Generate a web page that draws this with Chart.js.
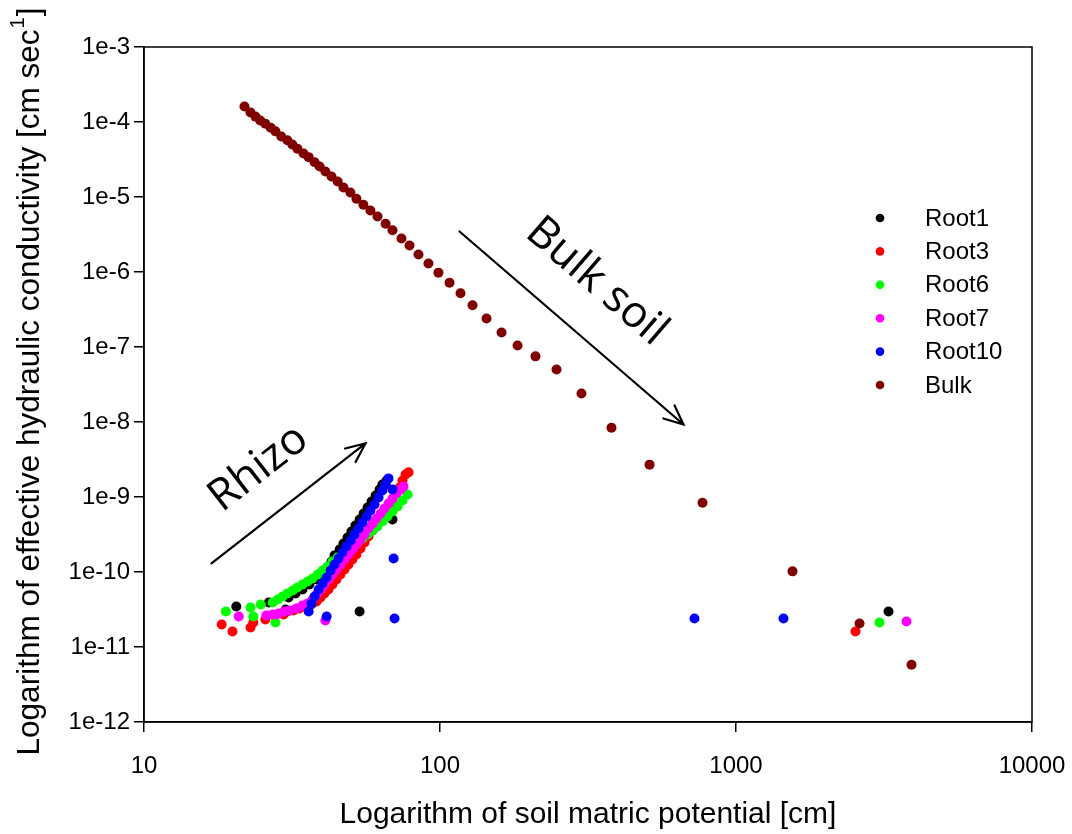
<!DOCTYPE html>
<html>
<head>
<meta charset="utf-8">
<script src="https://cdn.jsdelivr.net/npm/chart.js@4/dist/chart.umd.min.js"></script>
<style>
  html, body { margin: 0; padding: 0; background: #fff; }
  #wrap { width: 1072px; height: 834px; }
</style>
</head>
<body>
<div id="wrap"><canvas id="c" width="1072" height="834"></canvas></div>
<script>
// Soil matric potential [cm] (x) vs effective hydraulic conductivity [cm/s] (y)

const root1X = [20.5, 26.4, 30.1, 30.8, 32.5, 34.3, 36.2, 38.3, 40.1, 41.7, 43.0, 44.0, 45.8, 47.2, 48.7, 50.2, 51.8, 53.5, 55.2, 56.9, 58.7, 60.6, 62.5, 63.9, 66.0, 53.5, 69.1, 3275];
const root1Y = [3.47e-11, 3.92e-11, 3.16e-11, 4.57e-11, 5.17e-11, 5.84e-11, 6.81e-11, 7.94e-11, 9.56e-11, 1.15e-10, 1.38e-10, 1.66e-10, 2.0e-10, 2.40e-10, 2.88e-10, 3.47e-10, 4.17e-10, 5.01e-10, 6.03e-10, 7.24e-10, 8.70e-10, 1.05e-9, 1.26e-9, 1.47e-9, 1.66e-9, 2.97e-11, 5.01e-10, 2.97e-11];

const root3X = [18.3, 19.9, 22.9, 23.4, 25.7, 29.6, 30.5, 32.0, 33.5, 34.9, 36.8, 38.3, 39.5, 40.7, 42.0, 43.3, 44.7, 46.1, 47.6, 49.1, 50.6, 52.2, 53.9, 55.6, 57.3, 59.2, 61.0, 63.0, 64.9, 67.0, 69.1, 71.3, 73.0, 74.7, 76.5, 78.3, 2533];
const root3Y = [2.0e-11, 1.61e-11, 1.82e-11, 2.12e-11, 2.33e-11, 2.71e-11, 2.97e-11, 3.07e-11, 3.27e-11, 3.47e-11, 3.69e-11, 4.04e-11, 4.57e-11, 5.17e-11, 5.84e-11, 6.81e-11, 7.94e-11, 9.26e-11, 1.08e-10, 1.26e-10, 1.47e-10, 1.71e-10, 2.06e-10, 2.47e-10, 2.97e-10, 3.58e-10, 4.30e-10, 5.17e-10, 6.21e-10, 7.47e-10, 8.98e-10, 1.12e-9, 1.34e-9, 1.66e-9, 2.0e-9, 2.13e-9, 1.61e-11];

const root6X = [18.9, 22.9, 23.4, 24.8, 27.8, 27.2, 28.3, 29.4, 30.5, 31.8, 33.0, 34.3, 35.7, 37.1, 38.6, 40.1, 41.7, 43.3, 45.1, 46.8, 48.7, 50.6, 52.6, 54.7, 56.9, 59.2, 61.5, 63.9, 66.5, 69.1, 71.9, 74.7, 77.7, 3053];
const root6Y = [2.97e-11, 3.37e-11, 2.55e-11, 3.69e-11, 2.12e-11, 3.92e-11, 4.30e-11, 4.71e-11, 5.17e-11, 5.67e-11, 6.21e-11, 6.81e-11, 7.47e-11, 8.19e-11, 9.26e-11, 1.05e-10, 1.18e-10, 1.38e-10, 1.56e-10, 1.71e-10, 1.93e-10, 2.19e-10, 2.47e-10, 2.80e-10, 3.16e-10, 3.58e-10, 4.04e-10, 4.71e-10, 5.50e-10, 6.41e-10, 7.47e-10, 8.98e-10, 1.08e-9, 2.12e-11];

const root7X = [20.9, 28.0, 41.0, 25.9, 27.2, 28.5, 29.8, 31.0, 32.8, 34.3, 35.7, 37.1, 38.3, 39.5, 40.7, 42.0, 43.3, 44.7, 46.1, 47.6, 49.1, 50.6, 52.2, 53.9, 55.6, 57.3, 59.2, 61.0, 63.0, 64.9, 67.0, 69.1, 71.3, 73.6, 75.3, 3767];
const root7Y = [2.55e-11, 2.71e-11, 2.26e-11, 2.63e-11, 2.71e-11, 2.80e-11, 2.97e-11, 3.07e-11, 3.27e-11, 3.58e-11, 3.81e-11, 4.30e-11, 5.01e-11, 5.84e-11, 6.81e-11, 7.94e-11, 9.26e-11, 1.08e-10, 1.26e-10, 1.47e-10, 1.71e-10, 2.0e-10, 2.33e-10, 2.71e-10, 3.16e-10, 3.81e-10, 4.43e-10, 5.17e-10, 6.03e-10, 7.03e-10, 8.19e-10, 9.56e-10, 1.12e-9, 1.26e-9, 1.38e-9, 2.19e-11];

const root10X = [41.4, 36.0, 36.8, 37.7, 38.9, 40.1, 41.4, 42.7, 44.0, 45.4, 46.8, 48.3, 49.9, 51.4, 53.1, 54.7, 56.5, 58.2, 60.1, 62.0, 63.9, 65.5, 67.0, 69.1, 69.7, 70.2, 724, 1447];
const root10Y = [2.55e-11, 2.97e-11, 3.81e-11, 4.71e-11, 5.84e-11, 7.03e-11, 8.45e-11, 1.05e-10, 1.26e-10, 1.51e-10, 1.82e-10, 2.19e-10, 2.63e-10, 3.16e-10, 3.81e-10, 4.57e-10, 5.49e-10, 6.61e-10, 7.94e-10, 9.85e-10, 1.22e-9, 1.47e-9, 1.77e-9, 1.26e-9, 1.51e-10, 2.40e-11, 2.40e-11, 2.40e-11];

const bulkX = [21.85, 22.9, 23.8, 24.7, 25.7, 26.8, 27.8, 29.1, 30.5, 31.7, 33.0, 34.6, 36.0, 37.7, 39.2, 41.0, 43.0, 45.1, 47.2, 49.8, 52.2, 55.1, 58.2, 61.5, 65.5, 69.1, 74.1, 78.9, 84.6, 91.4, 98.8, 107.7, 117.3, 128.8, 143.6, 161.4, 182.8, 210.2, 247.5, 300.6, 379.6, 510.5, 770.6, 1552, 2614, 3917];
const bulkY = [1.61e-4, 1.34e-4, 1.18e-4, 1.05e-4, 9.5e-5, 8.4e-5, 7.5e-5, 6.4e-5, 5.7e-5, 5.0e-5, 4.4e-5, 3.8e-5, 3.4e-5, 2.9e-5, 2.55e-5, 2.19e-5, 1.88e-5, 1.61e-5, 1.34e-5, 1.15e-5, 9.5e-6, 7.9e-6, 6.6e-6, 5.5e-6, 4.4e-6, 3.6e-6, 2.8e-6, 2.26e-6, 1.71e-6, 1.30e-6, 9.8e-7, 7.2e-7, 5.2e-7, 3.6e-7, 2.4e-7, 1.56e-7, 1.05e-7, 7.5e-8, 5.0e-8, 2.4e-8, 8.4e-9, 2.7e-9, 8.4e-10, 1.02e-10, 2.06e-11, 5.8e-12];

const seriesNames = ['Root1', 'Root3', 'Root6', 'Root7', 'Root10', 'Bulk'];
const seriesColors = ['#000000', '#ff0000', '#00ff00', '#ff00ff', '#0000ff', '#800000'];

const xTickValues = [10, 100, 1000, 10000];
const xTickLabels = ['10', '100', '1000', '10000'];
const yTickValues = [1e-12, 1e-11, 1e-10, 1e-9, 1e-8, 1e-7, 1e-6, 1e-5, 1e-4, 1e-3];
const yTickLabels = ['1e-12', '1e-11', '1e-10', '1e-9', '1e-8', '1e-7', '1e-6', '1e-5', '1e-4', '1e-3'];

const xTitle = 'Logarithm of soil matric potential [cm]';
const yTitle = 'Logarithm of effective hydraulic conductivity [cm sec';
const yTitleSup = '1';
const yTitleEnd = ']';

// Arrow annotations in data coordinates: [x0, y0, x1, y1]
const rhizoArrow = [16.9, 1.30e-10, 56.0, 5.17e-9];
const bulkArrow = [116.4, 3.47e-6, 664.7, 9.26e-9];
// Annotation labels: [text, x, y]
const rhizoLabel = ['Rhizo', 24.4, 2.4e-9];
const bulkLabel = ['Bulk soil', 338, 7.4e-7];

const FONT = "'Liberation Sans', Arial, Helvetica, sans-serif";
const NOTE_FONT = "'Open Sans', 'DejaVu Sans', sans-serif";
const DOT_R = 5;

function pts(xs, ys) { return xs.map((v, i) => ({ x: v, y: ys[i] })); }

const allX = [root1X, root3X, root6X, root7X, root10X, bulkX];
const allY = [root1Y, root3Y, root6Y, root7Y, root10Y, bulkY];

const datasets = seriesNames.map((name, i) => ({
  label: name,
  data: pts(allX[i], allY[i]),
  backgroundColor: seriesColors[i],
  borderWidth: 0,
  pointRadius: DOT_R,
  pointHoverRadius: DOT_R,
  order: seriesNames.length - i
}));

function drawArrow(ctx, x0, y0, x1, y1) {
  ctx.beginPath();
  ctx.moveTo(x0, y0);
  ctx.lineTo(x1, y1);
  const ang = Math.atan2(y1 - y0, x1 - x0);
  const len = 21, spread = 0.42;
  ctx.moveTo(x1 - len * Math.cos(ang - spread), y1 - len * Math.sin(ang - spread));
  ctx.lineTo(x1, y1);
  ctx.lineTo(x1 - len * Math.cos(ang + spread), y1 - len * Math.sin(ang + spread));
  ctx.stroke();
}

const decor = {
  id: 'decor',
  afterDraw(chart) {
    const { ctx, chartArea: a, scales: { x, y } } = chart;
    ctx.save();

    // plot frame
    ctx.strokeStyle = '#000';
    ctx.lineWidth = 1.5;
    ctx.strokeRect(a.left, a.top, a.right - a.left, a.bottom - a.top);

    // arrows
    ctx.lineWidth = 2.2;
    ctx.lineCap = 'round';
    ctx.lineJoin = 'miter';
    [rhizoArrow, bulkArrow].forEach(r => {
      drawArrow(ctx, x.getPixelForValue(r[0]), y.getPixelForValue(r[1]),
                x.getPixelForValue(r[2]), y.getPixelForValue(r[3]));
    });

    // rotated annotation labels, aligned with their arrows
    ctx.fillStyle = '#000';
    ctx.textAlign = 'center';
    ctx.textBaseline = 'middle';
    ctx.font = '44px ' + NOTE_FONT;
    [[rhizoLabel, rhizoArrow], [bulkLabel, bulkArrow]].forEach(([lab, arr]) => {
      const ang = Math.atan2(y.getPixelForValue(arr[3]) - y.getPixelForValue(arr[1]),
                             x.getPixelForValue(arr[2]) - x.getPixelForValue(arr[0]));
      ctx.save();
      ctx.translate(x.getPixelForValue(lab[1]), y.getPixelForValue(lab[2]));
      ctx.rotate(ang);
      ctx.fillText(lab[0], 0, 0);
      ctx.restore();
    });

    // legend inside the plot
    ctx.font = '24px ' + FONT;
    ctx.textAlign = 'left';
    const lx = a.right - 152, ty = a.top + 171, step = 33.4;
    seriesNames.forEach((name, i) => {
      const yy = ty + i * step;
      ctx.fillStyle = seriesColors[i];
      ctx.beginPath();
      ctx.arc(lx, yy, 4.3, 0, Math.PI * 2);
      ctx.fill();
      ctx.fillStyle = '#000';
      ctx.fillText(name, lx + 45, yy + 1);
    });

    // axis titles
    ctx.fillStyle = '#000';
    ctx.font = '30px ' + FONT;
    ctx.textAlign = 'center';
    ctx.textBaseline = 'middle';
    ctx.fillText(xTitle, (a.left + a.right) / 2, 815);

    ctx.save();
    ctx.translate(30, (a.top + a.bottom) / 2 - 2);
    ctx.rotate(-Math.PI / 2);
    ctx.font = '31.5px ' + FONT;
    const w1 = ctx.measureText(yTitle).width;
    ctx.font = '20px ' + FONT;
    const w2 = ctx.measureText(yTitleSup).width;
    ctx.font = '31.5px ' + FONT;
    const w3 = ctx.measureText(yTitleEnd).width;
    let sx = -(w1 + w2 + w3) / 2;
    ctx.textAlign = 'left';
    ctx.fillText(yTitle, sx, 0);
    ctx.font = '20px ' + FONT;
    ctx.fillText(yTitleSup, sx + w1 + 1, -12);
    ctx.font = '31.5px ' + FONT;
    ctx.fillText(yTitleEnd, sx + w1 + w2 + 2, 0);
    ctx.restore();

    ctx.restore();
  }
};

Chart.defaults.font.family = FONT;
Chart.defaults.color = '#000';

new Chart(document.getElementById('c'), {
  type: 'scatter',
  data: { datasets },
  options: {
    responsive: false,
    animation: false,
    events: [],
    layout: { padding: { left: 0, right: 40, top: 47, bottom: 0 } },
    plugins: { legend: { display: false }, tooltip: { enabled: false } },
    scales: {
      x: {
        type: 'logarithmic',
        position: 'bottom',
        min: 10, max: 10000,
        afterBuildTicks: s => { s.ticks = xTickValues.map(v => ({ value: v })); },
        afterFit: s => { s.height = 112; s.paddingLeft = 0; s.paddingRight = 0; },
        ticks: {
          autoSkip: false, maxRotation: 0, padding: 20,
          font: { size: 24 }, color: '#000',
          callback: v => { const k = xTickValues.indexOf(v); return k >= 0 ? xTickLabels[k] : ''; }
        },
        grid: { display: true, drawOnChartArea: false, drawTicks: true, tickLength: 10, color: '#000', lineWidth: 1.5 },
        border: { display: true, color: '#000', width: 1.5 }
      },
      y: {
        type: 'logarithmic',
        position: 'left',
        min: 1e-12, max: 1e-3,
        afterBuildTicks: s => { s.ticks = yTickValues.map(v => ({ value: v })); },
        afterFit: s => { s.width = 144; s.paddingTop = 0; s.paddingBottom = 0; },
        ticks: {
          autoSkip: false, padding: 4,
          font: { size: 24 }, color: '#000',
          callback: v => { const k = yTickValues.findIndex(t => Math.abs(Math.log10(t) - Math.log10(v)) < 1e-6); return k >= 0 ? yTickLabels[k] : ''; }
        },
        grid: { display: true, drawOnChartArea: false, drawTicks: true, tickLength: 10, color: '#000', lineWidth: 1.5 },
        border: { display: true, color: '#000', width: 1.5 }
      }
    }
  },
  plugins: [decor]
});
</script>
</body>
</html>
